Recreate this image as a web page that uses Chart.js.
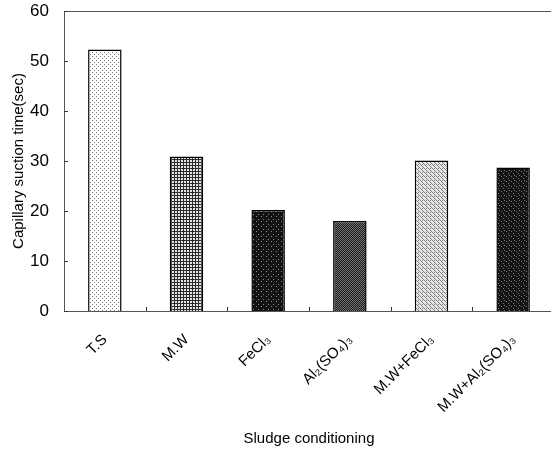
<!DOCTYPE html>
<html>
<head>
<meta charset="utf-8">
<script src="https://cdn.jsdelivr.net/npm/chart.js@4/dist/chart.umd.min.js"></script>
<style>
  html, body { margin: 0; padding: 0; background: #fff; overflow: hidden; }
  #wrap { width: 556px; height: 454px; }
</style>
</head>
<body>
<div id="wrap"><canvas id="cst"></canvas></div>
<script>
// data
const categories = ['T.S', 'M.W', 'FeCl₃', 'Al₂(SO₄)₃', 'M.W+FeCl₃', 'M.W+Al₂(SO₄)₃'];
const cstValues = [52.3, 30.9, 20.2, 18.0, 30.1, 28.7];
const yTicks = [0, 10, 20, 30, 40, 50, 60];

const FONT = 'Liberation Sans, Arial, sans-serif';

// little dot/grid textures like the scanned print
function makePattern(bg, fg, size, dots) {
    const c = document.createElement('canvas');
    c.width = size; c.height = size;
    const g = c.getContext('2d');
    g.fillStyle = bg; g.fillRect(0, 0, size, size);
    g.fillStyle = fg;
    dots.forEach(([x, y]) => g.fillRect(x, y, 1, 1));
    return g.createPattern(c, 'repeat');
}

const ctx = document.getElementById('cst').getContext('2d');
const fills = [
    makePattern('#ffffff', '#7a7a7a', 4, [[0, 0], [2, 2]]),
    makePattern('#e4e4e4', '#2a2a2a', 3, [[0, 0], [1, 0], [2, 0], [0, 1], [0, 2]]),
    makePattern('#121212', '#8a8a8a', 5, [[1, 1], [3, 4]]),
    makePattern('#202020', '#6e6e6e', 2, [[0, 0], [1, 1]]),
    makePattern('#e6e6e6', '#808080', 4, [[0, 0], [1, 1], [2, 2], [3, 3], [2, 0]]),
    makePattern('#141414', '#7a7a7a', 5, [[1, 1], [3, 3], [4, 0]])
];

// frame round the plot plus the small inner ticks
const framePlugin = {
    id: 'frame',
    afterDatasetsDraw(chart) {
        const { ctx, chartArea: a, scales } = chart;
        ctx.save();
        ctx.strokeStyle = '#555';
        ctx.lineWidth = 1;
        ctx.strokeRect(a.left + 0.5, a.top + 0.5, a.right - a.left, a.bottom - a.top);
        ctx.strokeStyle = '#333';
        ctx.beginPath();
        scales.y.ticks.forEach((t, i) => {
            const y = Math.round(scales.y.getPixelForTick(i)) + 0.5;
            ctx.moveTo(a.left, y); ctx.lineTo(a.left + 4, y);
        });
        for (let i = 1; i < categories.length; i++) {
            const x = Math.round((scales.x.getPixelForTick(i - 1) + scales.x.getPixelForTick(i)) / 2) + 0.5;
            ctx.moveTo(x, a.bottom); ctx.lineTo(x, a.bottom - 4);
        }
        ctx.stroke();
        ctx.restore();
    }
};

new Chart(ctx, {
    type: 'bar',
    data: {
        labels: categories,
        datasets: [{
            data: cstValues,
            backgroundColor: fills,
            borderColor: '#000',
            borderWidth: 1.5,
            barPercentage: 0.41,
            categoryPercentage: 1
        }]
    },
    options: {
        responsive: true, maintainAspectRatio: false, animation: false,
        layout: { padding: { top: 11, right: 2, left: 10, bottom: 6 } },
        plugins: { legend: { display: false }, tooltip: { enabled: false } },
        scales: {
            x: {
                grid: { display: false },
                border: { display: false },
                ticks: {
                    color: '#000', maxRotation: 45, minRotation: 45, padding: 12,
                    font: { family: FONT, size: 15 }
                },
                title: {
                    display: true, text: 'Sludge conditioning', color: '#000',
                    padding: { top: 0, bottom: 0 },
                    font: { family: FONT, size: 15 }
                },
                afterFit: (s) => { s.height = 137; s.paddingLeft = 0; s.paddingRight = 0; }
            },
            y: {
                min: 0, max: 60,
                afterBuildTicks: (s) => { s.ticks = yTicks.map(v => ({ value: v })); },
                grid: { display: false },
                border: { display: false },
                ticks: {
                    color: '#000', padding: 7,
                    font: { family: FONT, size: 17 }
                },
                title: {
                    display: true, text: 'Capillary suction time(sec)', color: '#000',
                    padding: { top: 0, bottom: 0 },
                    font: { family: FONT, size: 15 }
                },
                afterFit: (s) => { s.width = 54; s.paddingTop = 0; s.paddingBottom = 0; }
            }
        }
    },
    plugins: [framePlugin]
});
</script>
</body>
</html>
